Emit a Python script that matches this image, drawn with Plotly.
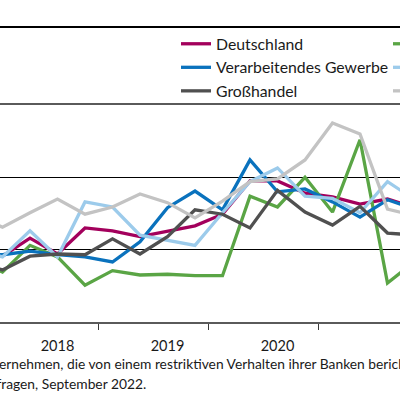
import plotly.graph_objects as go

# Quarters: index 0 = 2018 Q1 (first index is 2017 Q4)
quarters = ["2017Q4", "2018Q1", "2018Q2", "2018Q3", "2018Q4",
            "2019Q1", "2019Q2", "2019Q3", "2019Q4",
            "2020Q1", "2020Q2", "2020Q3", "2020Q4",
            "2021Q1", "2021Q2", "2021Q3", "2021Q4"]

deutschland = [10.6, 9.1, 11.6, 9.4, 13.0, 12.6, 11.8, 12.6, 13.3,
               14.9, 19.5, 19.5, 17.8, 17.3, 16.3, 17.0, 15.8]
bau = [8.8, 6.9, 10.6, 9.0, 5.1, 7.1, 6.5, 6.6, 6.4,
       6.4, 17.4, 15.9, 20.0, 15.2, 25.2, 5.4, 8.4]
verarbeitend = [9.3, 9.3, 9.8, 9.3, 9.0, 8.3, 11.1, 15.8, 18.1,
                15.5, 22.4, 18.0, 18.4, 16.6, 14.5, 16.9, 15.6]
dienstleister = [10.0, 9.0, 12.6, 9.0, 16.6, 15.9, 12.0, 11.3, 10.6,
                 15.1, 19.4, 21.3, 17.4, 17.1, 15.1, 19.4, 16.9]
grosshandel = [8.3, 7.2, 9.1, 9.4, 9.3, 11.5, 9.4, 11.8, 15.5,
               14.9, 13.0, 18.2, 15.2, 13.4, 16.0, 12.3, 12.0]
einzelhandel = [14.8, 13.1, 15.1, 17.0, 14.9, 15.9, 17.7, 16.5, 14.4,
                16.7, 19.4, 19.8, 22.4, 27.5, 26.0, 15.6, 14.7]

year_labels = ["2018", "2019", "2020", "2021"]
year_label_pos = [2, 6, 10, 14]
year_boundaries = [-0.5, 3.5, 7.5, 11.5, 15.5]

x = [i - 1 for i in range(len(quarters))]

series = [
    ("Deutschland", deutschland, "#a3005c", "legend"),
    ("Bauhauptgewerbe", bau, "#5aa545", "legend2"),
    ("Verarbeitendes Gewerbe", verarbeitend, "#0a72bd", "legend"),
    ("Dienstleister", dienstleister, "#9ccbeb", "legend2"),
    ("Großhandel", grosshandel, "#505050", "legend"),
    ("Einzelhandel", einzelhandel, "#c3c3c3", "legend2"),
]

fig = go.Figure()
for name, vals, color, lg in series:
    fig.add_trace(go.Scatter(x=x, y=vals, name=name, mode="lines",
                             line=dict(color=color, width=3.3),
                             customdata=quarters, legend=lg))

FONT = "Lato"
LEG_Y = 1 + (105 - 27) / 217
fig.update_layout(
    width=400, height=400,
    margin=dict(l=0, r=0, t=105, b=78, autoexpand=False),
    paper_bgcolor="white", plot_bgcolor="white",
    font=dict(family=FONT, color="#1a1a1a"),
    showlegend=True,
    legend=dict(x=176 / 400, y=LEG_Y, xanchor="left", yanchor="top",
                orientation="v", font=dict(size=15.8, family=FONT),
                bgcolor="rgba(0,0,0,0)", borderwidth=0, tracegroupgap=0),
    legend2=dict(x=388 / 400, y=LEG_Y, xanchor="left", yanchor="top",
                 orientation="v", font=dict(size=15.8, family=FONT),
                 bgcolor="rgba(0,0,0,0)", borderwidth=0, tracegroupgap=0),
    xaxis=dict(range=[-2.5 / 27.5, 397.5 / 27.5], showgrid=False, zeroline=False,
               tickmode="array", tickvals=year_label_pos, ticktext=year_labels,
               ticks="", tickfont=dict(size=14.5, family=FONT, color="#1a1a1a"),
               ticklabelstandoff=10,
               showline=True, linecolor="#5a5a5a", linewidth=1.6, mirror=True,
               minor=dict(tickmode="array", tickvals=year_boundaries,
                          ticks="outside", ticklen=6, tickwidth=1.3,
                          tickcolor="#3a3a3a", showgrid=False)),
    yaxis=dict(range=[0, 30], tickmode="array", tickvals=[10, 20],
               showticklabels=False, ticks="", showgrid=True,
               gridcolor="#000000", gridwidth=1.2, zeroline=False,
               showline=False),
    shapes=[dict(type="line", xref="paper", yref="paper", x0=0, x1=1,
                 y0=1 + 78 / 217, y1=1 + 78 / 217,
                 line=dict(color="#000000", width=2))],
    annotations=[
        dict(xref="paper", yref="paper", x=-88 / 400, y=-41 / 217,
             xanchor="left", yanchor="middle", showarrow=False,
             text="Anteil der Unternehmen, die von einem restriktiven Verhalten ihrer Banken berichten.",
             font=dict(size=13.8, family=FONT, color="#1a1a1a")),
        dict(xref="paper", yref="paper", x=-158 / 400, y=-61 / 217,
             xanchor="left", yanchor="middle", showarrow=False,
             text="Quelle: ifo Konjunkturumfragen, September 2022.",
             font=dict(size=13.8, family=FONT, color="#1a1a1a")),
    ],
)

fig.write_html("out.html", config={"displayModeBar": False},
               post_script="document.body.style.margin='0';document.body.style.padding='0';")
